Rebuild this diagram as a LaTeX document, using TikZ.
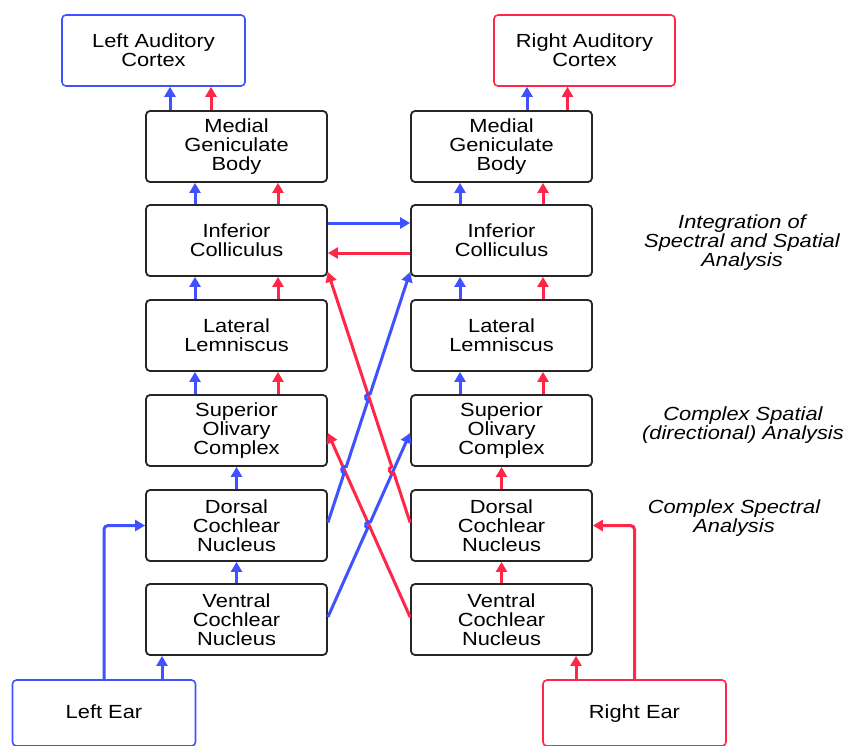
\documentclass[tikz,border=0pt]{standalone}
\usepackage{fontspec}
\newfontfamily\diagfont{Liberation Sans}[FakeStretch=1.15]
\usetikzlibrary{arrows.meta}
\usetikzlibrary{calc}

\definecolor{earblue}{RGB}{64,82,255}
\definecolor{earred}{RGB}{255,38,72}

\tikzset{
  stage/.style={draw=black!85, line width=1.8pt, rounded corners=4pt,
    minimum width=181pt, minimum height=71pt, inner sep=0pt, align=center,
    text=black, font=\diagfont\fontsize{19}{19}\selectfont},
  cortex/.style={stage, line width=1.6pt, minimum width=183pt},
  earbox/.style={cortex, minimum height=66pt, text height=14pt, text depth=4pt},
  note/.style={align=center, text=black,
    font=\diagfont\itshape\fontsize{19}{19}\selectfont},
  bpath/.style={earblue, line width=3pt, -{Triangle[length=10pt,width=11pt]}},
  rpath/.style={earred, line width=3pt, -{Triangle[length=10pt,width=11pt]}}
}

\begin{document}
\begin{tikzpicture}[x=1pt,y=-1pt]
        \fill[white] (0,0) rectangle (845,745);
        \clip (0,0) rectangle (845,745);

        \node[cortex, draw=earblue] (lac) at (153.5,50.5) {Left Auditory\\Cortex};
        \node[cortex, draw=earred, minimum width=181pt] (rac) at (584.5,50.5) {Right Auditory\\Cortex};

        \node[stage] (lmgb) at (236.5,146.5) {Medial\\Geniculate\\Body};
        \node[stage] (lic) at (236.5,240.5) {Inferior\\Colliculus};
        \node[stage] (lll) at (236.5,335.5) {Lateral\\Lemniscus};
        \node[stage] (lsoc) at (236.5,430.5) {Superior\\Olivary\\Complex};
        \node[stage] (ldcn) at (236.5,525.5) {Dorsal\\Cochlear\\Nucleus};
        \node[stage] (lvcn) at (236.5,619.5) {Ventral\\Cochlear\\Nucleus};

        \node[stage] (rmgb) at (501.5,146.5) {Medial\\Geniculate\\Body};
        \node[stage] (ric) at (501.5,240.5) {Inferior\\Colliculus};
        \node[stage] (rll) at (501.5,335.5) {Lateral\\Lemniscus};
        \node[stage] (rsoc) at (501.5,430.5) {Superior\\Olivary\\Complex};
        \node[stage] (rdcn) at (501.5,525.5) {Dorsal\\Cochlear\\Nucleus};
        \node[stage] (rvcn) at (501.5,619.5) {Ventral\\Cochlear\\Nucleus};

        \node[earbox, draw=earblue] (lear) at (104,713) {Left Ear};
        \node[earbox, draw=earred] (rear) at (634.5,713) {Right Ear};

        \node[note] (integ) at (742,243) {Integration of\\Spectral and Spatial\\Analysis};
        \node[note] (spatial) at (743,425) {Complex Spatial\\(directional) Analysis};
        \node[note] (spectral) at (734,518) {Complex Spectral\\Analysis};

        \foreach \lo/\hi in {lic/lmgb, lll/lic, lsoc/lll, ric/rmgb, rll/ric, rsoc/rll} {
          \draw[bpath] ([xshift=-41.5pt]\lo.north) -- ([xshift=-41.5pt]\hi.south);
          \draw[rpath] ([xshift=41.5pt]\lo.north) -- ([xshift=41.5pt]\hi.south);
        }

        \draw[bpath] ([xshift=-66.5pt]lmgb.north) -- ([xshift=-66.5pt]lmgb.north |- lac.south);
        \draw[rpath] ([xshift=-25.5pt]lmgb.north) -- ([xshift=-25.5pt]lmgb.north |- lac.south);
        \draw[bpath] ([xshift=25.5pt]rmgb.north) -- ([xshift=25.5pt]rmgb.north |- rac.south);
        \draw[rpath] ([xshift=66pt]rmgb.north) -- ([xshift=66pt]rmgb.north |- rac.south);

        \draw[bpath] (ldcn) -- (lsoc);
        \draw[bpath] (lvcn) -- (ldcn);
        \draw[rpath] (rdcn) -- (rsoc);
        \draw[rpath] (rvcn) -- (rdcn);

        \draw[bpath] ([yshift=17.5pt]lic.east) -- ([yshift=17.5pt]ric.west);
        \draw[rpath] ([yshift=-12.5pt]ric.west) -- ([yshift=-12.5pt]lic.east);

        \draw[bpath] ([xshift=-74.5pt]lvcn.south |- lear.north) -- ([xshift=-74.5pt]lvcn.south);
        \draw[bpath, rounded corners=4pt] (lear.north) |- (ldcn.west);
        \draw[rpath] ([xshift=74.5pt]rvcn.south |- rear.north) -- ([xshift=74.5pt]rvcn.south);
        \draw[rpath, rounded corners=4pt] (rear.north) |- (rdcn.east);

        \coordinate (b1s) at ([yshift=3pt]ldcn.east);
        \coordinate (b1e) at ([yshift=-31.5pt]ric.west);
        \coordinate (r1s) at ([yshift=3pt]rdcn.west);
        \coordinate (r1e) at ([yshift=-31.5pt]lic.east);
        \coordinate (b2s) at ([yshift=2.5pt]lvcn.east);
        \coordinate (b2e) at ([yshift=-2.5pt]rsoc.west);
        \coordinate (r2s) at ([yshift=2.5pt]rvcn.west);
        \coordinate (r2e) at ([yshift=-2.5pt]lsoc.east);

        \draw[rpath] (r2s) -- (r2e);
        \draw[bpath] (b2s) -- ($(b2s)!0.4827!(b2e)$)
          arc[start angle=245.46, end angle=65.46, radius=3.5pt] -- (b2e);
        \draw[rpath] (r1s) -- ($(r1s)!0.1968!(r1e)$)
          arc[start angle=288.54, end angle=108.54, radius=3.5pt] -- (r1e);
        \draw[bpath] (b1s) -- ($(b1s)!0.1968!(b1e)$)
          arc[start angle=251.46, end angle=71.46, radius=3.5pt]
          -- ($(b1s)!0.4868!(b1e)$)
          arc[start angle=251.46, end angle=71.46, radius=3.5pt] -- (b1e);
      \end{tikzpicture}
\end{document}
